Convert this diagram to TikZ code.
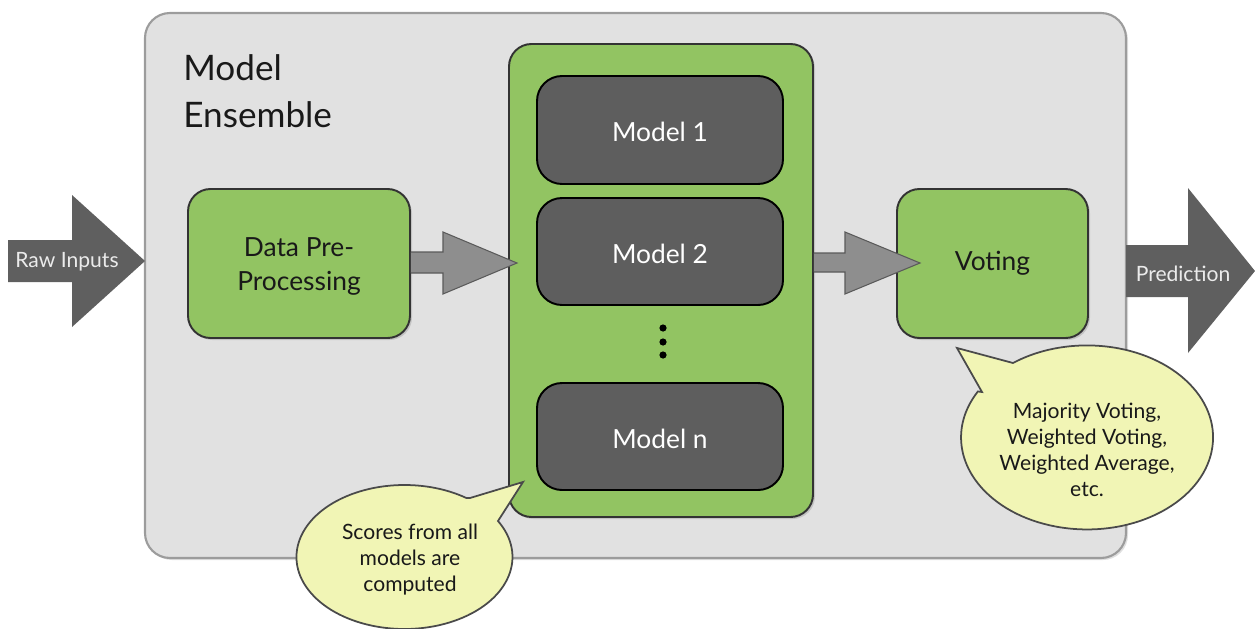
\documentclass[tikz,border=0pt]{standalone}
\usepackage{fontspec}
\setmainfont{Lato}
\usetikzlibrary{fit,shadows,calc}
\definecolor{panel}{HTML}{E1E1E1}
\definecolor{panelline}{HTML}{9C9C9C}
\definecolor{leaf}{HTML}{92C462}
\definecolor{modelgray}{HTML}{5E5E5E}
\definecolor{bigarrow}{HTML}{5F5F5F}
\definecolor{flowgray}{HTML}{8E8E8E}
\definecolor{flowline}{HTML}{5A5A5A}
\definecolor{note}{HTML}{F1F5B5}
\definecolor{noteline}{HTML}{4A4A4A}
\tikzset{
  panelbox/.style={draw=panelline, line width=1.2pt, fill=panel, rounded corners=0.5cm, inner sep=0pt,
     drop shadow={shadow xshift=0.04cm, shadow yshift=-0.04cm, opacity=0.25}},
  greenbox/.style={draw=black!80, line width=1.1pt, fill=leaf, rounded corners=0.45cm, inner sep=0pt,
     drop shadow={shadow xshift=0.04cm, shadow yshift=-0.04cm, opacity=0.3}},
  greentext/.style={font=\fontsize{15}{19}\selectfont, text=black!90, align=center},
  modelbox/.style={draw=black, line width=1.1pt, fill=modelgray, rounded corners=0.5cm, inner sep=0pt},
  modeltext/.style={font=\fontsize{15}{18}\selectfont, text=white},
  bigarrowshape/.style={fill=bigarrow, draw=none},
  flowarrow/.style={fill=flowgray, draw=flowline, line width=0.6pt, line join=miter},
  callout/.style={fill=note, draw=noteline, line width=1pt},
  calltext/.style={font=\fontsize{12}{14.8}\selectfont, text=black!90, align=center},
  arrowtext/.style={font=\fontsize{12}{14}\selectfont, text=white!92!black},
  titletext/.style={font=\fontsize{20}{24}\selectfont, text=black!90, anchor=base west, inner sep=0pt}
}
\begin{document}
\begin{tikzpicture}[x=0.02cm, y=-0.02cm]
\useasboundingbox (0,0) rectangle (1255,629);

% container
\node[panelbox, fit={(145,13)(1126,558)}] (ens) {};
\node[titletext] (title1) at (183,80) {Model};
\node[titletext] (title2) at (183,127) {Ensemble};

% raw input arrow
\coordinate (rawtip) at (145,261);
\fill[bigarrowshape] (8,240) -- (72,240) -- (72,195) -- (rawtip) -- (72,327) -- (72,282) -- (8,282) -- cycle;
\node[arrowtext] (rawlbl) at (67,262) {Raw Inputs};

% prediction arrow
\coordinate (predtip) at (1255,271);
\fill[bigarrowshape] (1126,245) -- (1188,245) -- (1188,188) -- (predtip) -- (1188,353) -- (1188,297) -- (1126,297) -- cycle;
\node[arrowtext] (predlbl) at (1183,274) {Prediction};

% boxes
\node[greenbox, fit={(188,189)(410,338)}] (pre) {};
\node[greentext] (pretext) at ($(pre.center)+(0,3)$) {Data Pre-\\Processing};
\node[greenbox, fit={(509,44)(813,517)}] (models) {};
\node[greenbox, fit={(897,189)(1088,338)}] (vote) {};
\node[greentext] (votetext) at (vote.center) {Voting};

\node[modelbox, fit={(537,76)(783,184)}] (m1) {};
\node[modelbox, fit={(537,198)(783,305)}] (m2) {};
\node[modelbox, fit={(537,383)(783,490)}] (mn) {};
\node[modeltext] (m1t) at ($(m1.center)+(0,2)$) {Model 1};
\node[modeltext] (m2t) at ($(m2.center)+(0,2)$) {Model 2};
\node[modeltext] (mnt) at ($(mn.center)+(0,2)$) {Model n};

\foreach \yy in {328,342,355} \fill[black] (663,\yy) circle (3.6);

% flow arrows
\draw[flowarrow] (pre.east |- 0,252) -- (443,252) -- (443,232) -- (517,263) -- (443,294) -- (443,273) -- (pre.east |- 0,273);
\draw[flowarrow] (models.east |- 0,253) -- (845,253) -- (845,232) -- (920,263) -- (845,294) -- (845,272) -- (models.east |- 0,272);

% callouts
\coordinate (tail1) at (523,482);
\draw[callout] (470,498) -- (tail1) -- (498,521)
   arc[start angle=-30, end angle=305, x radius=108, y radius=72] -- cycle;
\node[calltext] (c1) at (410,560) {Scores from all\\models are\\computed};

\coordinate (tail2) at (957,348);
\draw[callout] (982,392) -- (tail2) -- (1013,363)
   arc[start angle=-126, end angle=210, x radius=126, y radius=92] -- cycle;
\node[calltext] (c2) at (1087,450) {Majority Voting,\\Weighted Voting,\\Weighted Average,\\etc.};
\end{tikzpicture}
\end{document}
